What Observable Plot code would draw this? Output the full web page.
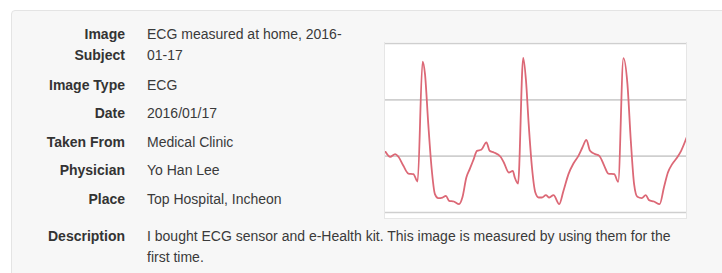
<!DOCTYPE html>
<html>
<head>
<meta charset="utf-8">
<script src="https://cdn.jsdelivr.net/npm/d3@7"></script>
<script src="https://cdn.jsdelivr.net/npm/@observablehq/plot@0.6"></script>
<style>
  html, body { margin: 0; padding: 0; background: #ffffff; }
  body { width: 722px; height: 273px; overflow: hidden; position: relative;
         font-family: "Liberation Sans", Arial, Helvetica, sans-serif; font-size: 14px; color: #333; }
  #card { position: absolute; left: 11px; top: 10px; width: 740px; height: 300px;
          background: #f7f7f7; border: 1px solid #e4e4e4; border-radius: 4px; box-sizing: border-box; }
  .lab { position: absolute; right: calc(722px - 125px); font-weight: bold; color: #333;
         line-height: 21px; white-space: nowrap; text-align: right; }
  .val { position: absolute; left: 147px; color: #3a3a3a; line-height: 21px; white-space: nowrap; }
  #chart { position: absolute; left: 384px; top: 42px; width: 303px; height: 177px;
           background: #fff; border-left: 1px solid #e6e6e6; border-right: 1px solid #e6e6e6;
           border-bottom: 1px solid #e6e6e6; box-sizing: border-box; overflow: hidden; }
  #chart svg { display: block; }
</style>
</head>
<body>
<div id="card"></div>
<div id="rows"></div>
<div id="chart"></div>
<script>
// ---- table content ----
const labels = ["Image<br>Subject", "Image Type", "Date", "Taken From", "Physician", "Place", "Description"];
const values = [
  "ECG measured at home, 2016-<br>01-17",
  "ECG",
  "2016/01/17",
  "Medical Clinic",
  "Yo Han Lee",
  "Top Hospital, Incheon",
  "I bought ECG sensor and e-Health kit. This image is measured by using them for the<br>first time."
];
const rowTops = [24, 74.5, 103, 131.5, 160, 188.5, 226];

// ---- ECG trace (time index, signal value) ----
const ecgTime = [0, 4.7, 9.7, 13, 18, 23, 28, 32.3, 37.3, 39.7, 43, 46.3, 49.7, 53, 57.3, 60.7, 64, 68.7, 74, 77.3,
  81.3, 84.7, 88.7, 92, 96.3, 101.5, 104.7, 109, 115.7, 119, 124, 128, 130, 133.3, 138.5, 141.3, 144, 147.3, 150.7, 154,
  157.3, 161.3, 164.7, 169, 174.7, 179, 184, 189, 194, 198, 202, 205.7, 210.7, 215, 220, 224, 230, 234, 239.3, 243.3,
  246.7, 250, 253.3, 257.7, 261.7, 265, 270, 275.7, 280, 284, 288.3, 293.3, 297.3, 302.7];
const ecgValue = [107.7, 98.9, 103.7, 98.9, 82.9, 69.2, 68.2, 55, 268, 246.2, 157.4, 79.9, 32.7, 25.6, 26.6, 29.6, 20.8, 19.5, 14.9, 26.6,
  62.1, 77, 94.8, 109.5, 111.3, 124.6, 109.5, 106.5, 98.9, 88.8, 71, 74, 62.1, 51.5, 274.6, 233.8, 156.9, 79.9, 35.5, 26.6,
  26.6, 30.9, 26.6, 30.9, 14.9, 38.5, 68.2, 87, 100.6, 115.4, 129, 109.5, 103.7, 100.6, 82.9, 69.2, 68.2, 54.5, 274, 227.9,
  127.3, 50.4, 27.9, 25.6, 30.9, 22, 19.5, 14.9, 44.4, 71, 85.9, 97.6, 109.5, 132.6];
const gridTicks = [0, 100, 200, 300];

// ---- build rows ----
const rowsEl = document.getElementById("rows");
labels.forEach((l, i) => {
  const a = document.createElement("div");
  a.className = "lab"; a.style.top = rowTops[i] + "px"; a.innerHTML = l;
  const b = document.createElement("div");
  b.className = "val"; b.style.top = rowTops[i] + "px"; b.innerHTML = values[i];
  rowsEl.appendChild(a); rowsEl.appendChild(b);
});

// ---- chart ----
const ecg = ecgTime.map((t, i) => ({t, v: ecgValue[i]}));
const chart = Plot.plot({
  width: 301,
  height: 176,
  marginTop: 1,
  marginBottom: 6,
  marginLeft: 0,
  marginRight: 0,
  x: {domain: [0, 302.7], axis: null},
  y: {domain: [0, 300], axis: null},
  style: {background: "transparent", overflow: "visible"},
  marks: [
    Plot.ruleY(gridTicks, {stroke: "#cfcfcf", strokeWidth: 1.6, strokeOpacity: 1}),
    Plot.line(ecg, {x: "t", y: "v", stroke: "#dc6876", strokeWidth: 1.8, curve: "monotone-x"})
  ]
});
document.getElementById("chart").appendChild(chart);
</script>
</body>
</html>
